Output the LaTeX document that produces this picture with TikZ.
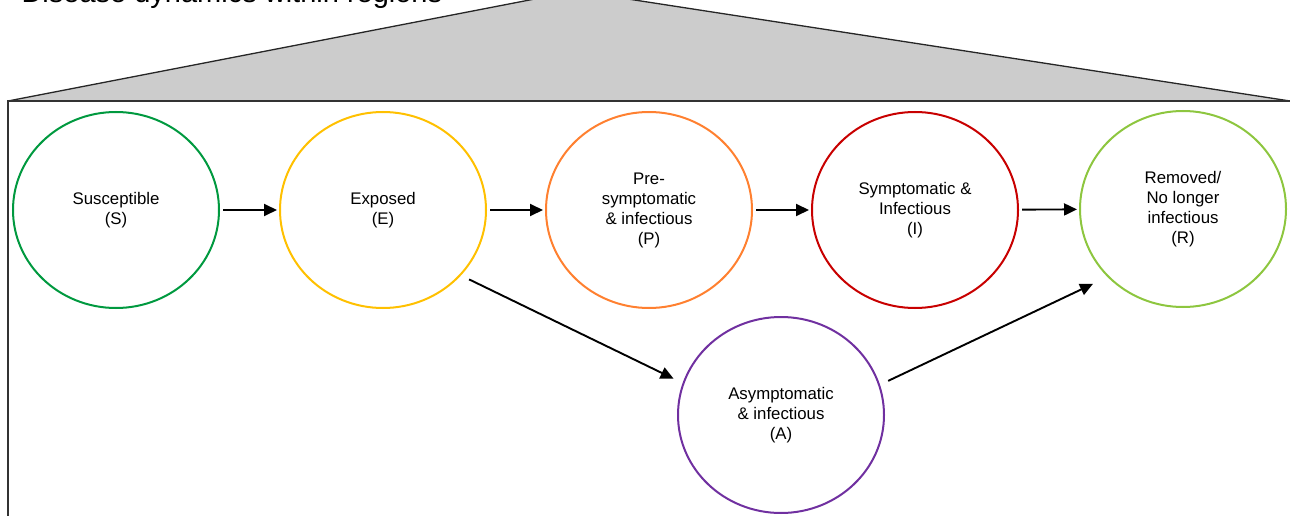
\documentclass[tikz,border=0pt]{standalone}
\usepackage{fontspec}
\setmainfont{Liberation Sans}
\usetikzlibrary{shapes.geometric,arrows.meta}

\definecolor{colS}{HTML}{00993F}
\definecolor{colE}{HTML}{FFC000}
\definecolor{colP}{HTML}{FF8030}
\definecolor{colI}{HTML}{C80000}
\definecolor{colR}{HTML}{8DC63F}
\definecolor{colA}{HTML}{7030A0}

\begin{document}
\begin{tikzpicture}[x=1pt, y=-1pt,
        statenode/.style={ellipse, draw=#1, line width=2pt, minimum width=206pt, minimum height=196pt, inner sep=0pt, align=center, font=\fontsize{16.8}{20}\selectfont},
        flow/.style={-{Triangle[length=13pt,width=12pt]}, line width=1.9pt, black},
        ]
                \useasboundingbox (0,0) rectangle (1290,516);
                \clip (0,0) rectangle (1290,516);

                % zoom wedge and region box
                \draw[fill=black!20, draw=black!85, line width=1.3pt] (8,101) -- (576,-9) -- (1290,101) -- cycle;
                \draw[black!80, line width=1.3pt] (8,530) -- (8,101) -- (1300,101);
                \node[anchor=base west, font=\fontsize{29}{34}\selectfont] (title) at (18,3) {Disease dynamics within regions};

                \node[statenode=colS]  at(116,210) (S) {Susceptible\\(S)};
                \node[statenode=colE]  at(383,210) (E) {Exposed\\(E)};
                \node[statenode=colP]  at(649,210) (P) {Pre-\\symptomatic\\\& infectious\\(P)};
                \node[statenode=colI]  at(915,210) (I) {Symptomatic \&\\Infectious\\(I)};
                \node[statenode=colR]  at(1183,209) (R) {Removed/\\No longer\\infectious\\(R)};
                \node[statenode=colA]  at(781,415) (A) {Asymptomatic\\\& infectious\\(A)};

                \draw[flow, shorten <=3pt, shorten >=2pt] (S)  --  (E) ;
                \draw[flow, shorten <=3pt, shorten >=2pt] (E)  --  (P) ;
                \draw[flow, shorten <=3pt, shorten >=2pt] (P)  --  (I) ;
                \draw[flow, shorten <=3pt, shorten >=2pt] (I)  --  (R) ;
                \draw[flow, shorten <=9pt, shorten >=10pt] (E.-40)  --  (A.162) ;
                \draw[flow, shorten <=9pt, shorten >=16pt] (A.17)  --  (R.222) ;

            \end{tikzpicture}
\end{document}
